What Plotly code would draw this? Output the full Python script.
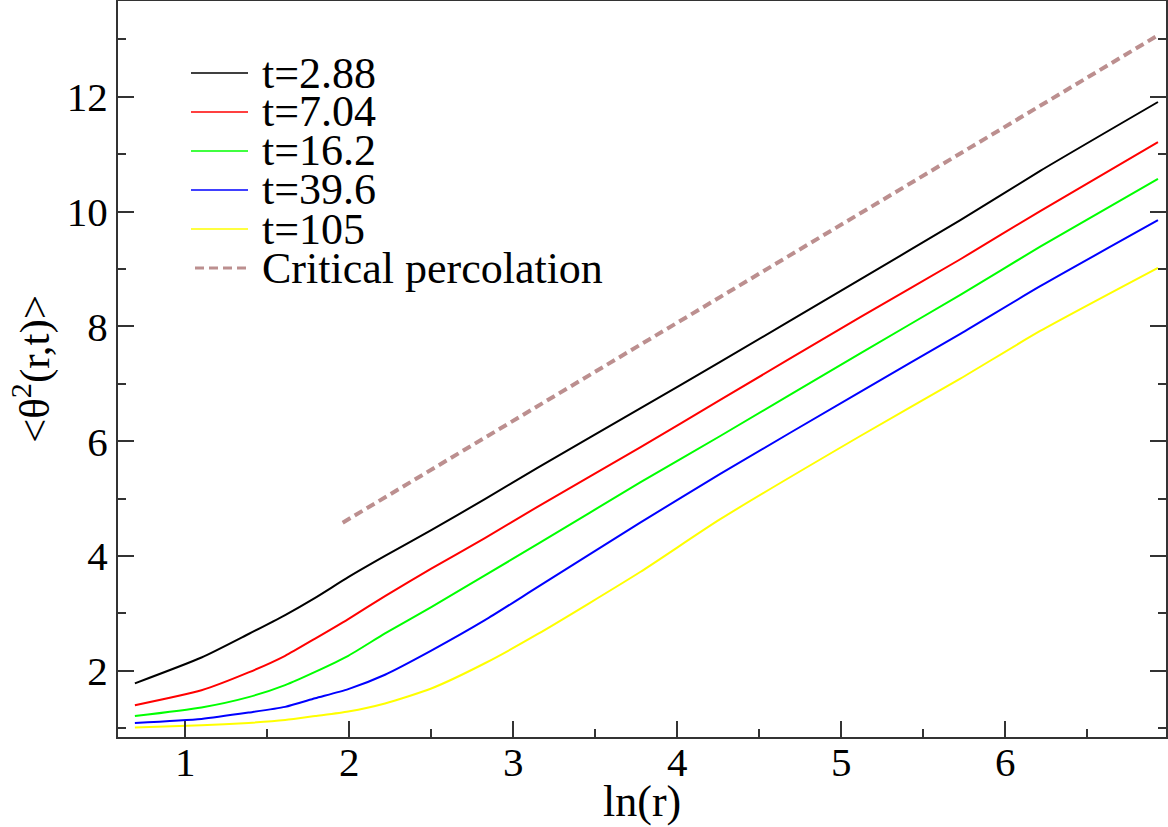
import plotly.graph_objects as go

# ln(r) sample positions
ln_r = [0.693, 1.099, 1.386, 1.609, 1.792, 1.994, 2.218, 2.50, 2.827, 3.15,
        3.774, 4.262, 5.116, 5.726, 6.213, 6.931]

theta2_t288 = [1.78, 2.23, 2.64, 2.97, 3.27, 3.63, 4.00, 4.45, 4.99, 5.54,
               6.57, 7.38, 8.82, 9.85, 10.71, 11.91]
theta2_t704 = [1.40, 1.66, 1.97, 2.26, 2.56, 2.90, 3.30, 3.78, 4.31, 4.86,
               5.89, 6.72, 8.16, 9.17, 10.01, 11.21]
theta2_t162 = [1.21, 1.36, 1.54, 1.75, 1.98, 2.26, 2.65, 3.11, 3.66, 4.21,
               5.28, 6.09, 7.53, 8.55, 9.39, 10.57]
theta2_t396 = [1.09, 1.16, 1.27, 1.37, 1.52, 1.68, 1.93, 2.35, 2.88, 3.46,
               4.58, 5.43, 6.86, 7.87, 8.70, 9.85]
theta2_t105 = [1.01, 1.05, 1.09, 1.14, 1.21, 1.29, 1.43, 1.69, 2.13, 2.64,
               3.72, 4.64, 6.09, 7.09, 7.92, 9.02]

perc_x = [1.96, 6.93]
perc_y = [4.58, 13.07]

labels = ["t=2.88", "t=7.04", "t=16.2", "t=39.6", "t=105", "Critical percolation"]
colors = ["#000000", "#ff0000", "#00ff00", "#0000ff", "#ffff00", "#bc8f8f"]
series = [theta2_t288, theta2_t704, theta2_t162, theta2_t396, theta2_t105]

font = "Liberation Serif, Times New Roman, serif"
W, H = 1168, 827
L, R, T, B = 118, 2, 1, 90
pw, ph = W - L - R, H - T - B


def px(xp):
    return (xp - L) / pw


def py(yp):
    return (H - B - yp) / ph


fig = go.Figure()
for name, col, ys in zip(labels, colors, series):
    fig.add_trace(go.Scatter(x=ln_r, y=ys, mode="lines", name=name,
                             line=dict(color=col, width=2, shape="spline", smoothing=0.6)))
fig.add_trace(go.Scatter(x=perc_x, y=perc_y, mode="lines", name=labels[-1],
                         line=dict(color=colors[-1], width=4, dash="9px,5px")))

# hand-drawn legend (tighter than plotly's own)
shapes, annots = [], []
for i, (name, col) in enumerate(zip(labels, colors)):
    yy = py(73 + 39 * i)
    dashed = i == len(labels) - 1
    shapes.append(dict(type="line", xref="paper", yref="paper",
                       x0=px(195 if dashed else 191), x1=px(248), y0=yy, y1=yy,
                       line=dict(color=col, width=3 if dashed else 1.5,
                                 dash="9px,5px" if dashed else "solid")))
    annots.append(dict(text=name, xref="paper", yref="paper", x=px(260), y=yy,
                       xanchor="left", yanchor="middle", showarrow=False,
                       font=dict(size=44)))

annots.append(dict(text="ln(r)", xref="paper", yref="paper", x=0.5, y=py(801),
                   xanchor="center", yanchor="middle", showarrow=False,
                   font=dict(size=44)))
annots.append(dict(text="&lt;θ<sup>2</sup>(r,t)&gt;", xref="paper", yref="paper",
                   x=px(31), y=0.5, xanchor="center", yanchor="middle",
                   textangle=-90, showarrow=False, font=dict(size=43)))

fig.update_layout(
    width=W, height=H,
    margin=dict(l=L, r=R, t=T, b=B),
    plot_bgcolor="white", paper_bgcolor="white",
    font=dict(family=font, size=41, color="black"),
    showlegend=False,
    shapes=shapes, annotations=annots,
)
fig.update_xaxes(
    range=[0.59, 6.98], showgrid=False, zeroline=False, automargin=False,
    showline=True, linecolor="#333", linewidth=2, mirror=True,
    ticks="inside", ticklen=16, tickwidth=2, tickcolor="#333",
    tick0=1, dtick=1, ticklabelstandoff=-12,
    minor=dict(ticks="inside", ticklen=8, tickwidth=2, tickcolor="#333", dtick=0.5),
    tickfont=dict(size=41),
)
fig.update_yaxes(
    range=[0.845, 13.67], showgrid=False, zeroline=False, automargin=False,
    showline=True, linecolor="#333", linewidth=2, mirror="ticks",
    ticks="inside", ticklen=16, tickwidth=2, tickcolor="#333",
    tick0=0, dtick=2, ticklabelstandoff=0,
    minor=dict(ticks="inside", ticklen=8, tickwidth=2, tickcolor="#333", dtick=1),
    tickfont=dict(size=41),
)

# drop the browser's default body margin so the figure fills the window
fig.write_html("out.html", config={"displayModeBar": False},
               post_script="document.body.style.margin='0';")
